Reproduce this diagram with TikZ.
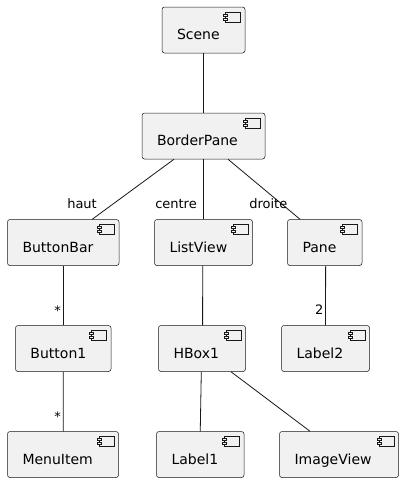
\documentclass[tikz,border=0pt]{standalone}
\usepackage{fontspec}
\setmainfont{DejaVu Sans}
\usetikzlibrary{calc}
\definecolor{compfill}{HTML}{F1F1F1}
\definecolor{compline}{HTML}{181818}
\tikzset{
 comp/.style={draw=compline, fill=compfill, line width=0.5pt, rounded corners=2.5pt, inner xsep=15pt, inner ysep=0pt, align=left, font=\fontsize{14}{16}\selectfont, text height=19pt, text depth=0pt},
 icon/.style={draw=compline, fill=compfill, line width=0.5pt},
 conn/.style={draw=compline, line width=0.8pt},
 lbl/.style={font=\fontsize{13}{15}\selectfont, inner sep=0pt, anchor=base east},
}
\newcommand\mycomp[6]{%
 \pgfmathsetmacro\cx{(#2+#4)/2}\pgfmathsetmacro\cy{(#3+#5)/2}%
 \pgfmathsetmacro\cw{#4-#2}\pgfmathsetmacro\ch{#5-#3}\pgfmathsetmacro\tw{#4-#2-30}%
 \node[comp, minimum width=\cw pt, minimum height=\ch pt, text width=\tw pt] (#1) at (\cx,\cy) {#6};
 \draw[icon] ($(#1.north east)+(-20,5)$) rectangle ++(15,10);
 \draw[icon] ($(#1.north east)+(-22,7)$) rectangle ++(4,2);
 \draw[icon] ($(#1.north east)+(-22,11)$) rectangle ++(4,2);
}
\begin{document}
\begin{tikzpicture}[x=1pt,y=-1pt]
\useasboundingbox[fill=white] (0,0) rectangle (403,482);
\mycomp{scene}{162}{7}{245}{53}{Scene}
\mycomp{bp}{142}{113}{265}{159}{BorderPane}
\mycomp{bb}{7.5}{219.5}{119}{265.5}{ButtonBar}
\mycomp{lv}{154.5}{219.5}{252.5}{265.5}{ListView}
\mycomp{pane}{287.5}{219.5}{362}{265.5}{Pane}
\mycomp{b1}{15.5}{325.5}{111}{371.5}{Button1}
\mycomp{hb}{158.5}{325.5}{245.5}{371.5}{HBox1}
\mycomp{l2}{281.5}{325.5}{369.5}{371.5}{Label2}
\mycomp{mi}{7.5}{431.5}{118.5}{477.5}{MenuItem}
\mycomp{l1}{156.5}{431.5}{244}{477.5}{Label1}
\mycomp{iv}{279.5}{431.5}{398.5}{477.5}{ImageView}
\draw[conn] (scene.south) -- (bp.north);
\draw[conn] ($(bp.south)+(-29.5,0)$) -- ($(bb.north)+(29,0)$);
\draw[conn] (bp.south) -- (lv.north);
\draw[conn] ($(bp.south)+(24.5,0)$) -- ($(pane.north)+(-24.75,0)$);
\draw[conn] (bb.south) -- (b1.north);
\draw[conn] ($(lv.south)+(-0.8,0)$) -- ($(hb.north)+(0.6,0)$);
\draw[conn] ($(pane.south)+(0.9,0)$) -- (l2.north);
\draw[conn] (b1.south) -- ($(mi.north)+(0.3,0)$);
\draw[conn] ($(hb.south)+(-0.7,0)$) -- (l1.north);
\draw[conn] ($(hb.south)+(29,0)$) -- ($(iv.north)+(-29,0)$);
\node[lbl] (lhaut) at (97,208.3) {haut};
\node[lbl] (lcentre) at (197,208.3) {centre};
\node[lbl] (ldroite) at (287.5,208.3) {droite};
\node[lbl] (lstar1) at (61,315.5) {*};
\node[lbl] (lstar2) at (61,421.5) {*};
\node[lbl] (ltwo) at (323.5,314) {2};
\end{tikzpicture}
\end{document}
